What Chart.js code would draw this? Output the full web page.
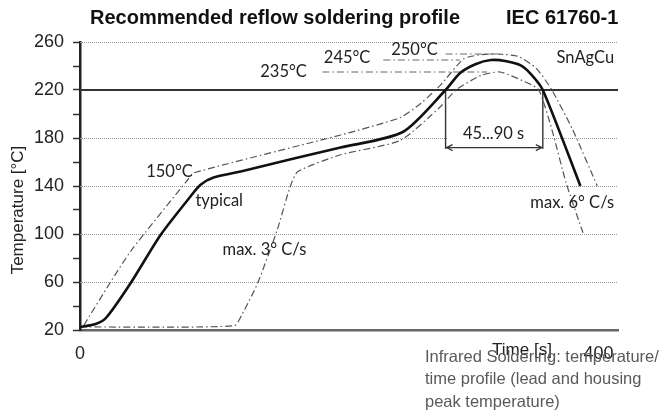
<!DOCTYPE html>
<html>
<head>
<meta charset="utf-8">
<script src="https://cdn.jsdelivr.net/npm/chart.js@4"></script>
<style>
  html, body { margin: 0; padding: 0; background: #fff; }
  #wrap { width: 660px; height: 410px; }
</style>
</head>
<body>
<div id="wrap"><canvas id="myChart" width="660" height="410"></canvas></div>
<script>
// typical profile (solid)
const typicalTime = [0, 12, 20, 39, 62, 85, 93, 103, 124, 165, 201, 249, 282, 293, 305, 317, 329, 340, 348, 357, 386];
const typicalTemp = [22.5, 25, 30, 59, 99, 131, 141, 147, 152, 163, 172, 185, 220, 234, 241.5, 245, 244, 240.5, 233, 220, 140];

// upper limit (dash-dot)
const upperTime = [3, 23, 40, 83, 88, 201, 247, 263, 278, 296, 310, 322, 338, 352, 364, 380, 399];
const upperTemp = [24, 59, 87, 145, 151, 182.5, 197, 209, 224, 246, 249.5, 250, 248, 238, 220, 187, 140];

// lower limit (dash-dot)
const lowerTime = [0, 119, 125, 137, 152, 162, 168, 201, 247, 278, 290, 309, 324, 345, 354, 364, 375, 388];
const lowerTemp = [22.5, 23.5, 33, 59, 103, 139, 152, 166, 178, 206, 220, 232, 235, 226, 220, 187, 142.5, 101];

// peak reference lines
const refTemps = [250, 245, 235];
const refStart = [282, 234, 187];
const refEnd = [324, 293, 314];

// time above liquidus window
const windowStart = 282;
const windowEnd = 357;
const windowTemp = 172;

const xTickValues = [0, 400];
const yTickValues = [20, 40, 60, 80, 100, 120, 140, 160, 180, 200, 220, 240, 260];
const yLabelValues = [20, 60, 100, 140, 180, 220, 260];
const dottedGrid = [60, 100, 140, 180, 260];
const solidGrid = [220];

const toPoints = (xs, ys) => xs.map((x, i) => ({x: x, y: ys[i]}));

const dashDot = [7, 3, 1.5, 3];

const datasets = [
    {data: toPoints(typicalTime, typicalTemp), borderColor: '#111', borderWidth: 2.6, tension: 0.25},
    {data: toPoints(upperTime, upperTemp), borderColor: '#555', borderWidth: 1.2, borderDash: dashDot, tension: 0.2},
    {data: toPoints(lowerTime, lowerTemp), borderColor: '#555', borderWidth: 1.2, borderDash: dashDot, tension: 0.2}
];
refTemps.forEach((t, i) => {
    datasets.push({data: [{x: refStart[i], y: t}, {x: refEnd[i], y: t}], borderColor: '#666', borderWidth: 1, borderDash: dashDot});
});
[windowStart, windowEnd].forEach((t) => {
    datasets.push({data: [{x: t, y: 220}, {x: t, y: windowTemp - 1}], borderColor: '#333', borderWidth: 1.4});
});
datasets.push({data: [{x: windowStart, y: windowTemp}, {x: windowEnd, y: windowTemp}], borderColor: '#333', borderWidth: 1.2});

// annotations: [text, time, temp, align]
const notes = [
    ['150°C', 87, 152, 'right'],
    ['typical', 89, 128, 'left'],
    ['max. 3° C/s', 110, 87, 'left'],
    ['max. 6° C/s', 412, 126, 'right'],
    ['SnAgCu', 412, 247, 'right'],
    ['235°C', 175, 235, 'right'],
    ['245°C', 224, 247, 'right'],
    ['250°C', 276, 253.5, 'right'],
    ['45...90 s', 319, 184, 'center']
];

const gridPlugin = {
    id: 'gridPlugin',
    beforeDatasetsDraw(chart) {
        const {ctx, chartArea, scales: {x, y}} = chart;
        ctx.save();
        ctx.strokeStyle = '#999';
        ctx.lineWidth = 1;
        ctx.setLineDash([1, 1]);
        dottedGrid.forEach((v) => {
            const py = Math.round(y.getPixelForValue(v)) + 0.5;
            ctx.beginPath();
            ctx.moveTo(chartArea.left, py);
            ctx.lineTo(chartArea.right, py);
            ctx.stroke();
        });
        ctx.setLineDash([]);
        ctx.strokeStyle = '#333';
        ctx.lineWidth = 2;
        solidGrid.forEach((v) => {
            const py = y.getPixelForValue(v);
            ctx.beginPath();
            ctx.moveTo(chartArea.left, py);
            ctx.lineTo(chartArea.right, py);
            ctx.stroke();
        });
        // white box behind window label
        const x0 = x.getPixelForValue(windowStart) + 2;
        const x1 = x.getPixelForValue(windowEnd) - 2;
        ctx.fillStyle = '#fff';
        ctx.fillRect(x0, y.getPixelForValue(190), x1 - x0, y.getPixelForValue(176) - y.getPixelForValue(190));
        ctx.restore();
    },
    afterDatasetsDraw(chart) {
        const {ctx, scales: {x, y}} = chart;
        ctx.save();
        // arrow heads
        const ay = y.getPixelForValue(windowTemp);
        const ax0 = x.getPixelForValue(windowStart);
        const ax1 = x.getPixelForValue(windowEnd);
        ctx.strokeStyle = '#333';
        ctx.lineWidth = 1.2;
        ctx.beginPath();
        ctx.moveTo(ax0 + 7, ay - 3); ctx.lineTo(ax0 + 1, ay); ctx.lineTo(ax0 + 7, ay + 3);
        ctx.moveTo(ax1 - 7, ay - 3); ctx.lineTo(ax1 - 1, ay); ctx.lineTo(ax1 - 7, ay + 3);
        ctx.stroke();
        ctx.fillStyle = '#222';
        ctx.font = '16.5px Lato';
        ctx.textBaseline = 'middle';
        notes.forEach(([txt, t, v, align]) => {
            ctx.textAlign = align;
            ctx.fillText(txt, x.getPixelForValue(t), y.getPixelForValue(v));
        });
        ctx.restore();
    },
    afterDraw(chart) {
        const {ctx} = chart;
        ctx.save();
        ctx.fillStyle = '#111';
        ctx.font = 'bold 20px "Liberation Sans"';
        ctx.textBaseline = 'alphabetic';
        ctx.textAlign = 'center';
        ctx.fillText('Recommended reflow soldering profile', 275, 24);
        ctx.textAlign = 'left';
        ctx.fillText('IEC 61760-1', 506, 24);
        // y title
        ctx.font = '17px "Liberation Sans"';
        ctx.fillStyle = '#222';
        ctx.translate(18, 210);
        ctx.rotate(-Math.PI / 2);
        ctx.textAlign = 'center';
        ctx.textBaseline = 'middle';
        ctx.fillText('Temperature [°C]', 0, 0);
        ctx.restore();
        ctx.save();
        ctx.fillStyle = '#222';
        ctx.font = '17px "Liberation Sans"';
        ctx.textAlign = 'center';
        ctx.textBaseline = 'middle';
        ctx.fillText('Time [s]', 522, 350);
        // caption
        ctx.fillStyle = '#5a5a5a';
        ctx.font = '16.5px "Liberation Sans"';
        ctx.textAlign = 'left';
        ['Infrared Soldering: temperature/', 'time profile (lead and housing', 'peak temperature)'].forEach((line, i) => {
            ctx.fillText(line, 425, 357 + i * 22.5);
        });
        ctx.restore();
    }
};

const ctxL = document.getElementById('myChart').getContext('2d');
const profileChart = new Chart(ctxL, {
    type: 'line',
    data: {datasets: datasets.map((d) => Object.assign({pointRadius: 0, fill: false, tension: 0}, d))},
    options: {
        responsive: false,
        animation: false,
        layout: {padding: {top: 42, right: 42, left: 0, bottom: 0}},
        plugins: {legend: {display: false}, tooltip: {enabled: false}},
        scales: {
            x: {
                type: 'linear',
                min: 0,
                max: 415,
                afterBuildTicks: (s) => { s.ticks = xTickValues.map((v) => ({value: v})); },
                afterFit: (s) => { s.height = 80; },
                ticks: {font: {family: 'Liberation Sans', size: 18}, color: '#222', padding: 5, maxRotation: 0, autoSkip: false},
                grid: {display: false},
                border: {display: true, color: '#666', width: 2.5}
            },
            y: {
                min: 20,
                max: 260,
                afterBuildTicks: (s) => { s.ticks = yTickValues.map((v) => ({value: v})); },
                afterFit: (s) => { s.width = 80; },
                ticks: {
                    font: {family: 'Liberation Sans', size: 18},
                    color: '#222',
                    padding: 9,
                    autoSkip: false,
                    callback: (v) => (yLabelValues.includes(v) ? String(v) : '')
                },
                grid: {display: true, drawOnChartArea: false, drawTicks: true, tickLength: 7, tickColor: '#333', tickWidth: 1.5},
                border: {display: true, color: '#222', width: 2.5}
            }
        }
    },
    plugins: [gridPlugin]
});
</script>
</body>
</html>
